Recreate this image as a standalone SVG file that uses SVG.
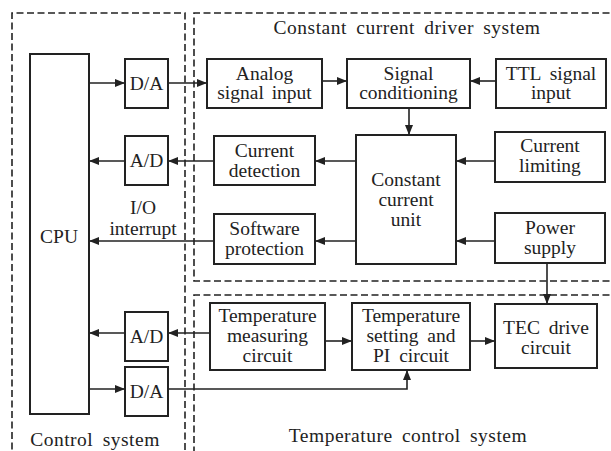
<svg xmlns="http://www.w3.org/2000/svg" width="611" height="451" viewBox="0 0 611 451" font-family="'Liberation Serif', 'DejaVu Serif', serif">
<style>
.b{fill:#fff;stroke:#222;stroke-width:2}
.d{fill:none;stroke:#222;stroke-width:1.6;stroke-dasharray:7 3.5}
.c{fill:none;stroke:#222;stroke-width:1.6}
text{font-family:'Liberation Serif','DejaVu Serif',serif;font-size:19.5px;fill:#222;text-anchor:middle}
.t{letter-spacing:0.5px;word-spacing:4px}
</style>
<defs>
<marker id="a" viewBox="0 0 10 8" refX="10" refY="4" markerWidth="10" markerHeight="8" markerUnits="userSpaceOnUse" orient="auto">
<path d="M0,0 L10,4 L0,8 z" fill="#222"/>
</marker>
</defs>
<rect width="611" height="451" fill="#fff"/>
<g id="frames">
<path class="d" d="M12,460 V13 H185 V460"/>
<path class="d" d="M620,13 H194 V281 H620"/>
<path class="d" d="M620,295 H194 V460"/>
<text class="t" x="95" y="446">Control system</text>
<text class="t" x="407" y="34">Constant current driver system</text>
<text class="t" x="408" y="442">Temperature control system</text>
<text x="143" y="214">I/O</text>
<text x="143" y="235">interrupt</text>
</g>
<g id="connectors">
<line class="c" x1="89" y1="83" x2="125" y2="83" marker-end="url(#a)"/>
<line class="c" x1="168" y1="83" x2="207" y2="83" marker-end="url(#a)"/>
<line class="c" x1="322" y1="81" x2="347" y2="81" marker-end="url(#a)"/>
<line class="c" x1="496" y1="81" x2="470" y2="81" marker-end="url(#a)"/>
<line class="c" x1="409" y1="108" x2="409" y2="135" marker-end="url(#a)"/>
<line class="c" x1="356" y1="161" x2="315" y2="161" marker-end="url(#a)"/>
<line class="c" x1="214" y1="161" x2="168" y2="161" marker-end="url(#a)"/>
<line class="c" x1="125" y1="161" x2="89" y2="161" marker-end="url(#a)"/>
<line class="c" x1="495" y1="161" x2="456" y2="161" marker-end="url(#a)"/>
<line class="c" x1="356" y1="241" x2="315" y2="241" marker-end="url(#a)"/>
<line class="c" x1="214" y1="241" x2="89" y2="241" marker-end="url(#a)"/>
<line class="c" x1="495" y1="241" x2="456" y2="241" marker-end="url(#a)"/>
<line class="c" x1="547" y1="263" x2="547" y2="304" marker-end="url(#a)"/>
<line class="c" x1="325" y1="341" x2="352" y2="341" marker-end="url(#a)"/>
<line class="c" x1="470" y1="341" x2="495" y2="341" marker-end="url(#a)"/>
<line class="c" x1="210" y1="333" x2="168" y2="333" marker-end="url(#a)"/>
<line class="c" x1="125" y1="333" x2="89" y2="333" marker-end="url(#a)"/>
<line class="c" x1="89" y1="389" x2="125" y2="389" marker-end="url(#a)"/>
<path class="c" d="M168,389 H407 V370" marker-end="url(#a)"/>
</g>
<g id="cpu"><rect class="b" x="30" y="54" width="59" height="360"/><text x="59" y="243">CPU</text></g>
<g id="da1"><rect class="b" x="125" y="59" width="43" height="49"/><text x="146.5" y="90">D/A</text></g>
<g id="ad1"><rect class="b" x="125" y="136" width="43" height="49"/><text x="146.5" y="167">A/D</text></g>
<g id="ad2"><rect class="b" x="125" y="312" width="43" height="49"/><text x="146.5" y="343">A/D</text></g>
<g id="da2"><rect class="b" x="125" y="367" width="43" height="49"/><text x="146.5" y="398">D/A</text></g>
<g id="analog"><rect class="b" x="207" y="59" width="115" height="49"/><text x="264.5" y="80">Analog</text><text x="264.5" y="99" word-spacing="3">signal input</text></g>
<g id="signal"><rect class="b" x="347" y="59" width="123" height="49"/><text x="408.5" y="80">Signal</text><text x="408.5" y="99">conditioning</text></g>
<g id="ttl"><rect class="b" x="496" y="59" width="110" height="49"/><text x="551" y="80" word-spacing="4">TTL signal</text><text x="551" y="99">input</text></g>
<g id="ccu"><rect class="b" x="356" y="135" width="100" height="129"/><text x="406" y="186">Constant</text><text x="406" y="206">current</text><text x="406" y="226">unit</text></g>
<g id="detect"><rect class="b" x="214" y="136" width="101" height="49"/><text x="264.5" y="157">Current</text><text x="264.5" y="177">detection</text></g>
<g id="limit"><rect class="b" x="495" y="132" width="110" height="50"/><text x="550" y="152">Current</text><text x="550" y="172">limiting</text></g>
<g id="soft"><rect class="b" x="214" y="214" width="101" height="50"/><text x="264.5" y="235">Software</text><text x="264.5" y="255">protection</text></g>
<g id="power"><rect class="b" x="495" y="213" width="110" height="50"/><text x="550" y="234">Power</text><text x="550" y="254">supply</text></g>
<g id="tmc"><rect class="b" x="210" y="303" width="115" height="67"/><text x="267.5" y="322">Temperature</text><text x="267.5" y="342">measuring</text><text x="267.5" y="362">circuit</text></g>
<g id="tspi"><rect class="b" x="352" y="303" width="118" height="67"/><text x="411" y="322">Temperature</text><text x="411" y="342" word-spacing="4">setting and</text><text x="411" y="362" word-spacing="4">PI circuit</text></g>
<g id="tec"><rect class="b" x="495" y="304" width="102" height="64"/><text x="546" y="334" word-spacing="4">TEC drive</text><text x="546" y="354">circuit</text></g>
</svg>
